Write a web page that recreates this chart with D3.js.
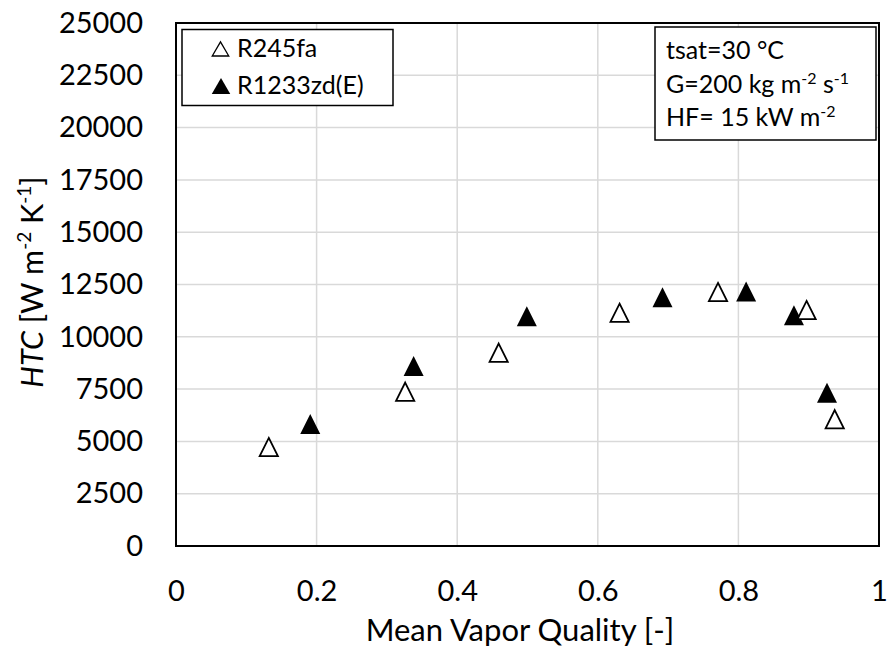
<!DOCTYPE html>
<html><head><meta charset="utf-8">
<script src="https://cdn.jsdelivr.net/npm/d3@7"></script>
<style>body{margin:0;background:#fff}svg{display:block}text{font-family:Lato,"Open Sans",sans-serif;fill:#000}</style>
</head><body><svg id="c" width="890" height="650"></svg>
<script>
const r245faX = [0.132, 0.326, 0.459, 0.631, 0.771, 0.897, 0.937];
const r245faY = [4730, 7375, 9240, 11150, 12140, 11280, 6060];
const r1233X = [0.191, 0.338, 0.499, 0.692, 0.811, 0.879, 0.926];
const r1233Y = [5830, 8600, 10980, 11890, 12160, 11030, 7330];
const xTicks = [0, 0.2, 0.4, 0.6, 0.8, 1];
const yTicks = [0, 2500, 5000, 7500, 10000, 12500, 15000, 17500, 20000, 22500, 25000];

const svg = d3.select("#c");
const L = 176, R = 879, T = 23, B = 546;
const x = d3.scaleLinear().domain([0, 1]).range([L, R]);
const y = d3.scaleLinear().domain([0, 25000]).range([B, T]);
const FONT = "Lato,'Open Sans',sans-serif";

// gridlines
svg.append("g").selectAll("line").data(xTicks.slice(1, -1)).join("line")
  .attr("x1", d => x(d)).attr("x2", d => x(d)).attr("y1", T).attr("y2", B)
  .attr("stroke", "#d9d9d9").attr("stroke-width", 1.5);
svg.append("g").selectAll("line").data(yTicks.slice(1, -1)).join("line")
  .attr("y1", d => y(d)).attr("y2", d => y(d)).attr("x1", L).attr("x2", R)
  .attr("stroke", "#d9d9d9").attr("stroke-width", 1.5);

// axes (labels only)
const xAxis = svg.append("g").attr("transform", `translate(0,${B})`)
  .call(d3.axisBottom(x).tickValues(xTicks).tickSize(0).tickPadding(34).tickFormat(d => String(d)));
const yAxis = svg.append("g").attr("transform", `translate(${L},0)`)
  .call(d3.axisLeft(y).tickValues(yTicks).tickSize(0).tickPadding(33).tickFormat(d => String(d)));
[xAxis, yAxis].forEach(a => {
  a.select(".domain").remove();
  a.selectAll("text").attr("font-size", 29).attr("font-family", FONT).attr("fill", "#000");
});

// border
svg.append("rect").attr("x", L).attr("y", T).attr("width", R - L).attr("height", B - T)
  .attr("fill", "none").attr("stroke", "#000").attr("stroke-width", 2);

// triangle symbol (width = height, bbox-centered)
const tri = { draw(ctx, size) { const s = Math.sqrt(size); ctx.moveTo(0, -s / 2); ctx.lineTo(s / 2, s / 2); ctx.lineTo(-s / 2, s / 2); ctx.closePath(); } };

const openData = r245faX.map((v, i) => [v, r245faY[i]]);
const fillData = r1233X.map((v, i) => [v, r1233Y[i]]);

svg.append("g").selectAll("path").data(fillData).join("path")
  .attr("transform", d => `translate(${x(d[0])},${y(d[1])})`)
  .attr("d", d3.symbol(tri, 20 * 20)).attr("fill", "#000");
svg.append("g").selectAll("path").data(openData).join("path")
  .attr("transform", d => `translate(${x(d[0])},${y(d[1])})`)
  .attr("d", d3.symbol(tri, 18.2 * 18.2)).attr("fill", "#fff").attr("stroke", "#000").attr("stroke-width", 1.8);

// axis titles
svg.append("text").attr("x", 520).attr("y", 641).attr("text-anchor", "middle")
  .attr("font-size", 31).text("Mean Vapor Quality [-]");
const yt = svg.append("text").attr("transform", "translate(43,282) rotate(-90)").attr("text-anchor", "middle").attr("font-size", 30.5);
yt.append("tspan").attr("font-style", "italic").text("HTC");
yt.append("tspan").text(" [W m");
yt.append("tspan").attr("font-size", 19).attr("dy", -12).text("-2");
yt.append("tspan").attr("dy", 12).text(" K");
yt.append("tspan").attr("font-size", 19).attr("dy", -12).text("-1");
yt.append("tspan").attr("dy", 12).text("]");

// legend
svg.append("rect").attr("x", 182).attr("y", 29.5).attr("width", 211).attr("height", 76)
  .attr("fill", "#fff").attr("stroke", "#000").attr("stroke-width", 1.5);
const legTri = { draw(ctx, size) { const w = Math.sqrt(size); const h = w * 0.86; ctx.moveTo(0, -h); ctx.lineTo(w / 2, 0); ctx.lineTo(-w / 2, 0); ctx.closePath(); } };
svg.append("path").attr("transform", "translate(220.5,56)").attr("d", d3.symbol(legTri, 16.5 * 16.5))
  .attr("fill", "#fff").attr("stroke", "#000").attr("stroke-width", 1.3);
svg.append("path").attr("transform", "translate(221,94)").attr("d", d3.symbol(legTri, 18.5 * 18.5)).attr("fill", "#000");
svg.append("text").attr("x", 237).attr("y", 57).attr("font-size", 25).text("R245fa");
svg.append("text").attr("x", 237).attr("y", 94).attr("font-size", 25).text("R1233zd(E)");

// info box
svg.append("rect").attr("x", 655).attr("y", 27).attr("width", 221).attr("height", 113)
  .attr("fill", "#fff").attr("stroke", "#000").attr("stroke-width", 1.5);
const info = svg.append("g");
info.append("text").attr("x", 666).attr("y", 59).attr("font-size", 25).text("tsat=30 °C");
const l2 = info.append("text").attr("x", 666).attr("y", 93).attr("font-size", 25);
l2.append("tspan").text("G=200 kg m");
l2.append("tspan").attr("font-size", 16).attr("dy", -9).text("-2");
l2.append("tspan").attr("dy", 9).text(" s");
l2.append("tspan").attr("font-size", 16).attr("dy", -9).text("-1");
const l3 = info.append("text").attr("x", 666).attr("y", 126).attr("font-size", 25);
l3.append("tspan").text("HF= 15 kW m");
l3.append("tspan").attr("font-size", 16).attr("dy", -9).text("-2");
</script></body></html>
